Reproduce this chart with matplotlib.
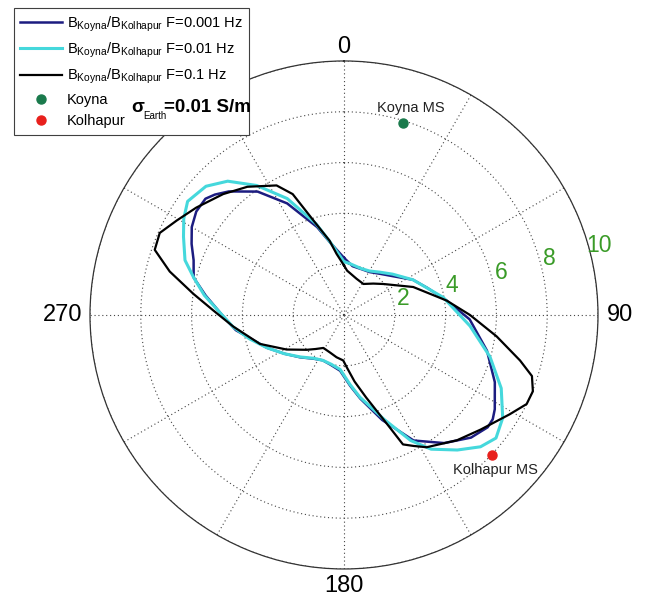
import numpy as np
import matplotlib
matplotlib.use('Agg')
import matplotlib.pyplot as plt

plt.rcParams['font.family'] = 'Liberation Sans'
plt.rcParams['mathtext.fontset'] = 'custom'
plt.rcParams['mathtext.rm'] = 'Liberation Sans'
plt.rcParams['mathtext.it'] = 'Liberation Sans:italic'
plt.rcParams['mathtext.bf'] = 'Liberation Sans:bold'

# ratio B_Koyna/B_Kolhapur vs azimuth (deg, clockwise from north)
th_001 = [0, 10, 20, 31, 41, 50, 63, 72, 82, 92, 104, 114, 122, 125, 128, 134, 142, 151, 160, 169,
          175, 184, 195, 205, 215, 226, 237, 247, 262, 270, 278, 284, 290, 295, 300, 305, 310, 313,
          317, 325, 333, 343, 349, 360]
r_001 = [2.25, 1.95, 1.93, 1.97, 2.15, 2.4, 3.05, 3.45, 4.08, 4.95, 5.8, 6.5, 7.0, 7.15, 7.18, 6.95,
         6.4, 5.65, 4.4, 3.35, 2.8, 2.2, 2.03, 1.97, 2.1, 2.4, 2.8, 3.3, 4.3, 4.8, 5.5, 6.1, 6.3,
         6.62, 6.92, 7.1, 7.12, 6.95, 6.65, 5.93, 4.93, 3.62, 2.92, 2.25]

th_01 = [0, 7, 20, 30, 40, 50, 63, 80, 95, 106, 115, 123, 129, 134, 140, 147, 152, 159, 169, 175,
         184, 195, 205, 215, 226, 237, 247, 256, 264, 270, 278, 284, 289, 296, 301, 306, 313, 319,
         326, 334, 343, 349, 360]
r_01 = [2.1, 2.03, 1.95, 2.0, 2.2, 2.5, 3.05, 3.97, 4.98, 5.98, 6.83, 7.45, 7.7, 7.47, 6.94, 6.3,
        5.6, 4.4, 3.3, 2.75, 2.15, 2.0, 1.97, 2.08, 2.38, 2.8, 3.3, 3.85, 4.4, 4.8, 5.55, 6.1, 6.62,
        7.03, 7.36, 7.61, 7.43, 6.98, 6.15, 5.1, 3.75, 2.95, 2.1]

th_1 = [0, 4, 19, 32, 43, 52, 68, 82, 90, 98, 104.5, 108, 112, 116, 121, 130, 138, 148, 152,
        155.5, 158.5, 165, 171, 177, 181, 190, 200, 212, 220, 227, 239, 251, 264, 272, 278, 284,
        289, 294, 299.5, 306, 315, 323, 332.5, 337, 343, 349, 353, 360]
r_1 = [1.95, 1.75, 1.51, 1.44, 1.69, 1.98, 2.94, 4.08, 4.96, 6.07, 7.16, 7.78, 8.02, 8.0, 7.6,
       7.02, 6.64, 6.14, 5.84, 5.6, 4.6, 3.36, 2.65, 2.06, 1.79, 1.69, 1.58, 1.53, 1.75, 2.01,
       2.64, 3.5, 4.38, 5.15, 5.99, 7.07, 7.88, 7.94, 7.56, 7.19, 6.73, 6.32, 5.75, 5.17, 3.75,
       2.98, 2.43, 1.95]

# stations (azimuth deg, radius)
koyna = (17, 7.9)
kolhapur = (133.4, 8.0)

r_ticks = [2, 4, 6, 8, 10]
ang_ticks = [0, 90, 180, 270]

fig = plt.figure(figsize=(6.46, 5.97), dpi=100)
ax = fig.add_axes([0.1393, 0.0469, 0.7864, 0.851], projection='polar')
ax.set_theta_zero_location('N')
ax.set_theta_direction(-1)

l1, = ax.plot(np.deg2rad(th_001), r_001, color='#1c1c80', lw=1.8, solid_joinstyle='round',
              label=r'B$_{\mathregular{Koyna}}$/B$_{\mathregular{Kolhapur}}$ F=0.001 Hz')
l2, = ax.plot(np.deg2rad(th_01), r_01, color='#45d8dc', lw=2.2, solid_joinstyle='round',
              label=r'B$_{\mathregular{Koyna}}$/B$_{\mathregular{Kolhapur}}$ F=0.01 Hz')
l3, = ax.plot(np.deg2rad(th_1), r_1, color='black', lw=1.6, solid_joinstyle='round',
              label=r'B$_{\mathregular{Koyna}}$/B$_{\mathregular{Kolhapur}}$ F=0.1 Hz')
p1, = ax.plot([np.deg2rad(koyna[0])], [koyna[1]], 'o', color='#1a7a4c', ms=6.5, label='Koyna')
p2, = ax.plot([np.deg2rad(kolhapur[0])], [kolhapur[1]], 'o', color='#e8201c', ms=6.5, label='Kolhapur')

ax.annotate('Koyna MS', xy=(np.deg2rad(koyna[0]), koyna[1]), xytext=(6, 11),
            textcoords='offset points', ha='center', va='center', fontsize=10.5, color='#222222')
ax.annotate('Kolhapur MS', xy=(np.deg2rad(kolhapur[0]), kolhapur[1]), xytext=(3, -11),
            textcoords='offset points', ha='center', va='center', fontsize=10.5, color='#222222')

ax.set_rlim(0, 10)
ax.set_yticks(r_ticks)
ax.set_yticklabels([])
ax.set_xticks(np.deg2rad(np.arange(0, 360, 30)))
ax.set_xticklabels([])
ax.tick_params(length=0)
ax.grid(True, color='#444444', linestyle=(0, (1, 2.5)), linewidth=0.8)
ax.spines['polar'].set_color('#333333')
ax.spines['polar'].set_linewidth(0.9)

for v in r_ticks:
    ax.text(np.deg2rad(74.7), v + 0.4, str(v), color='#3a9b28', fontsize=16.5,
            ha='center', va='center')

offs = {0: (0, 10), 90: (16, 0), 180: (0, -12), 270: (-20, 0)}
for a in ang_ticks:
    ax.annotate(str(a), xy=(np.deg2rad(a), 10), xytext=offs[a], textcoords='offset points',
                ha='center', va='center', fontsize=17, annotation_clip=False)

leg = fig.legend(handles=[l1, l2, l3, p1, p2], loc='upper left',
                 bbox_to_anchor=(0.021, 0.987), bbox_transform=fig.transFigure,
                 borderaxespad=0, fontsize=10.5, fancybox=False, edgecolor='#404040',
                 framealpha=1, handlelength=2.9, handletextpad=0.3, labelspacing=0.48,
                 borderpad=0.45, numpoints=1)
leg.get_frame().set_linewidth(0.8)

# sigma annotation (big sigma, small subscript, bold value)
fig.text(131 / 646, 1 - 108 / 597, 'σ', fontsize=13.5, fontweight='bold',
         ha='left', va='center', zorder=10)
fig.text(143 / 646, 1 - 116 / 597, 'Earth', fontsize=7, ha='left', va='center', zorder=10)
fig.text(164 / 646, 1 - 108 / 597, '=0.01 S/m', fontsize=13.5, fontweight='bold',
         ha='left', va='center', zorder=10)

fig.savefig('out.png', dpi=100)
